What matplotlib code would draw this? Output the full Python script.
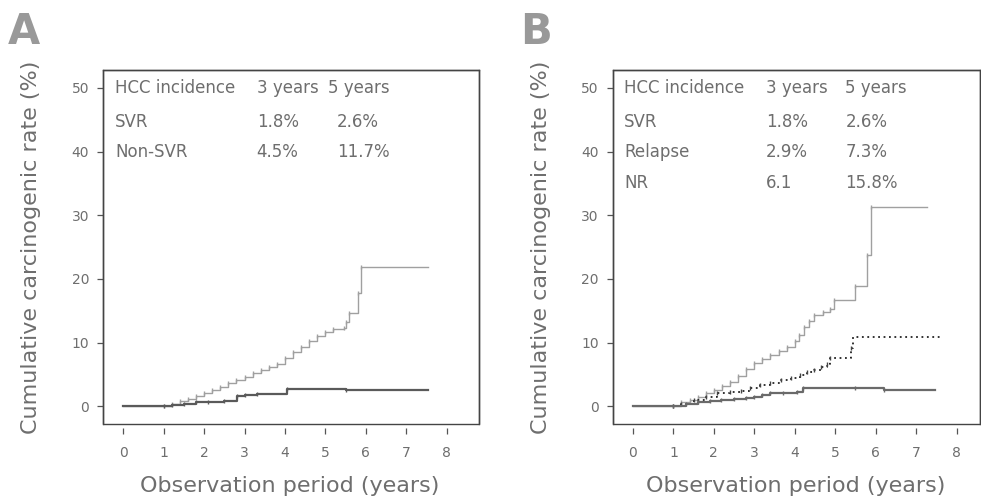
import numpy as np
import matplotlib
matplotlib.use("Agg")
import matplotlib.pyplot as plt

# --- data (years, cumulative %) ---
a_nonsvr_t = [0, 1.0, 1.2, 1.4, 1.6, 1.8, 2.0, 2.2, 2.4, 2.6, 2.8, 3.0, 3.2, 3.4, 3.6, 3.8, 4.0, 4.2,
              4.4, 4.6, 4.8, 5.0, 5.2, 5.45, 5.5, 5.58, 5.81, 5.89, 7.54]
a_nonsvr_y = [0, 0.05, 0.4, 0.8, 1.2, 1.6, 2.0, 2.5, 3.0, 3.6, 4.1, 4.6, 5.2, 5.7, 6.2, 6.7, 7.5, 8.5,
              9.3, 10.2, 11.0, 11.7, 12.1, 12.3, 13.2, 14.7, 17.7, 21.9, 21.9]
a_svr_t = [0, 1.0, 1.2, 1.5, 1.8, 2.1, 2.5, 2.81, 3.0, 3.3, 4.04, 5.5, 7.54]
a_svr_y = [0, 0.0, 0.2, 0.4, 0.6, 0.7, 0.8, 1.6, 1.7, 1.9, 2.7, 2.6, 2.5]

b_nr_t = [0, 1.0, 1.2, 1.4, 1.6, 1.8, 2.0, 2.2, 2.4, 2.6, 2.8, 3.0, 3.2, 3.4, 3.6, 3.8, 4.0, 4.1,
          4.22, 4.35, 4.47, 4.7, 4.88, 4.96, 5.5, 5.79, 5.89, 7.27]
b_nr_y = [0, 0.1, 0.6, 1.0, 1.5, 2.0, 2.5, 3.1, 3.8, 4.7, 5.8, 6.8, 7.4, 8.0, 8.6, 9.3, 10.3, 11.2,
          12.5, 13.3, 14.3, 14.8, 15.3, 16.7, 18.8, 23.8, 31.3, 31.3]
b_rel_t = [0, 1.0, 1.2, 1.5, 1.8, 2.08, 2.4, 2.66, 2.9, 3.15, 3.4, 3.65, 3.9, 4.14, 4.3, 4.47, 4.65,
           4.8, 4.88, 5.38, 5.45, 7.6]
b_rel_y = [0, 0.0, 0.4, 0.9, 1.4, 2.0, 2.2, 2.4, 2.8, 3.3, 3.7, 4.1, 4.5, 4.9, 5.3, 5.7, 6.2,
           6.7, 7.5, 9.1, 10.8, 10.8]
b_svr_t = [0, 1.0, 1.3, 1.6, 1.9, 2.17, 2.5, 2.8, 2.99, 3.2, 3.4, 3.7, 4.06, 4.2, 5.5, 6.2, 7.46]
b_svr_y = [0, 0.0, 0.3, 0.6, 0.8, 0.95, 1.1, 1.3, 1.5, 1.8, 2.0, 2.1, 2.25, 2.8, 2.8, 2.6, 2.6]

table_a = [["HCC incidence", "3 years", "5 years"],
           ["SVR", "1.8%", "2.6%"],
           ["Non-SVR", "4.5%", "11.7%"]]
table_b = [["HCC incidence", "3 years", "5 years"],
           ["SVR", "1.8%", "2.6%"],
           ["Relapse", "2.9%", "7.3%"],
           ["NR", "6.1", "15.8%"]]

txt = "#6e6e6e"
fig = plt.figure(figsize=(9.81, 4.98), dpi=100)
axA = fig.add_axes([0.105, 0.1486, 0.3833, 0.7108])
axB = fig.add_axes([0.6246, 0.1486, 0.3744, 0.7108])


def style(ax, xmax, ylab_x):
    ax.set_xlim(-0.5, xmax)
    ax.set_ylim(-2.8, 52.8)
    ax.set_xticks(range(0, 9))
    ax.set_yticks([0, 10, 20, 30, 40, 50])
    for s in ax.spines.values():
        s.set_color("#444444")
        s.set_linewidth(1.0)
    # x ticks sit a little below the frame, as in the original
    ax.spines["bottom"].set_position(("outward", 3))
    ax.spines["bottom"].set_color("none")
    ax.add_patch(plt.Rectangle((0, 0), 1, 1, transform=ax.transAxes, fill=False,
                               edgecolor="#444444", lw=1.0, clip_on=False))
    ax.tick_params(axis="x", length=4.5, width=0.9, color="#555555", pad=8,
                   labelsize=10, labelcolor=txt)
    ax.tick_params(axis="y", length=4, width=0.9, color="#555555", pad=6,
                   labelsize=10, labelcolor=txt)
    ax.set_xlabel("Observation period (years)", fontsize=16, color=txt)
    ax.set_ylabel("Cumulative carcinogenic rate (%)", fontsize=16, color=txt)
    ax.xaxis.set_label_coords(0.497, -0.148)
    ax.yaxis.set_label_coords(ylab_x, 0.5)


def table(ax, rows, cols):
    ys = [50, 44.7, 39.9, 35.0]
    for r, row in enumerate(rows):
        for c, cell in enumerate(row):
            x = cols[c] if (r == 0 or c < 2) else cols[3]
            ax.text(x, ys[r], cell, fontsize=12, color=txt, va="center", ha="left")


style(axA, 8.8, -0.165)
style(axB, 8.58, -0.168)

axA.step(a_nonsvr_t, a_nonsvr_y, where="post", color="#a0a0a0", lw=1.0)
axA.plot(a_nonsvr_t[1:-1], a_nonsvr_y[1:-1], "|", color="#a0a0a0", ms=3)
axA.step(a_svr_t, a_svr_y, where="post", color="#5a5a5a", lw=1.6)
axA.plot(a_svr_t[1:-1], a_svr_y[1:-1], "|", color="#5a5a5a", ms=3)
table(axA, table_a, [-0.2, 3.3, 5.07, 5.28])

axB.step(b_nr_t, b_nr_y, where="post", color="#a0a0a0", lw=1.0)
axB.plot(b_nr_t[1:-1], b_nr_y[1:-1], "|", color="#a0a0a0", ms=3)
axB.step(b_rel_t, b_rel_y, where="post", color="#222222", lw=1.3, ls=(0, (1, 2)))
axB.plot(b_rel_t[1:-2], b_rel_y[1:-2], "|", color="#444444", ms=3)
axB.step(b_svr_t, b_svr_y, where="post", color="#6a6a6a", lw=1.6)
axB.plot(b_svr_t[1:-1], b_svr_y[1:-1], "|", color="#6a6a6a", ms=3)
table(axB, table_b, [-0.22, 3.29, 5.25, 5.25])

fig.text(8 / 981, 1 - 11 / 498, "A", fontsize=30, fontweight="bold", color="#999999", va="top", ha="left")
fig.text(520 / 981, 1 - 11 / 498, "B", fontsize=30, fontweight="bold", color="#999999", va="top", ha="left")

fig.savefig("out.png", dpi=100)
